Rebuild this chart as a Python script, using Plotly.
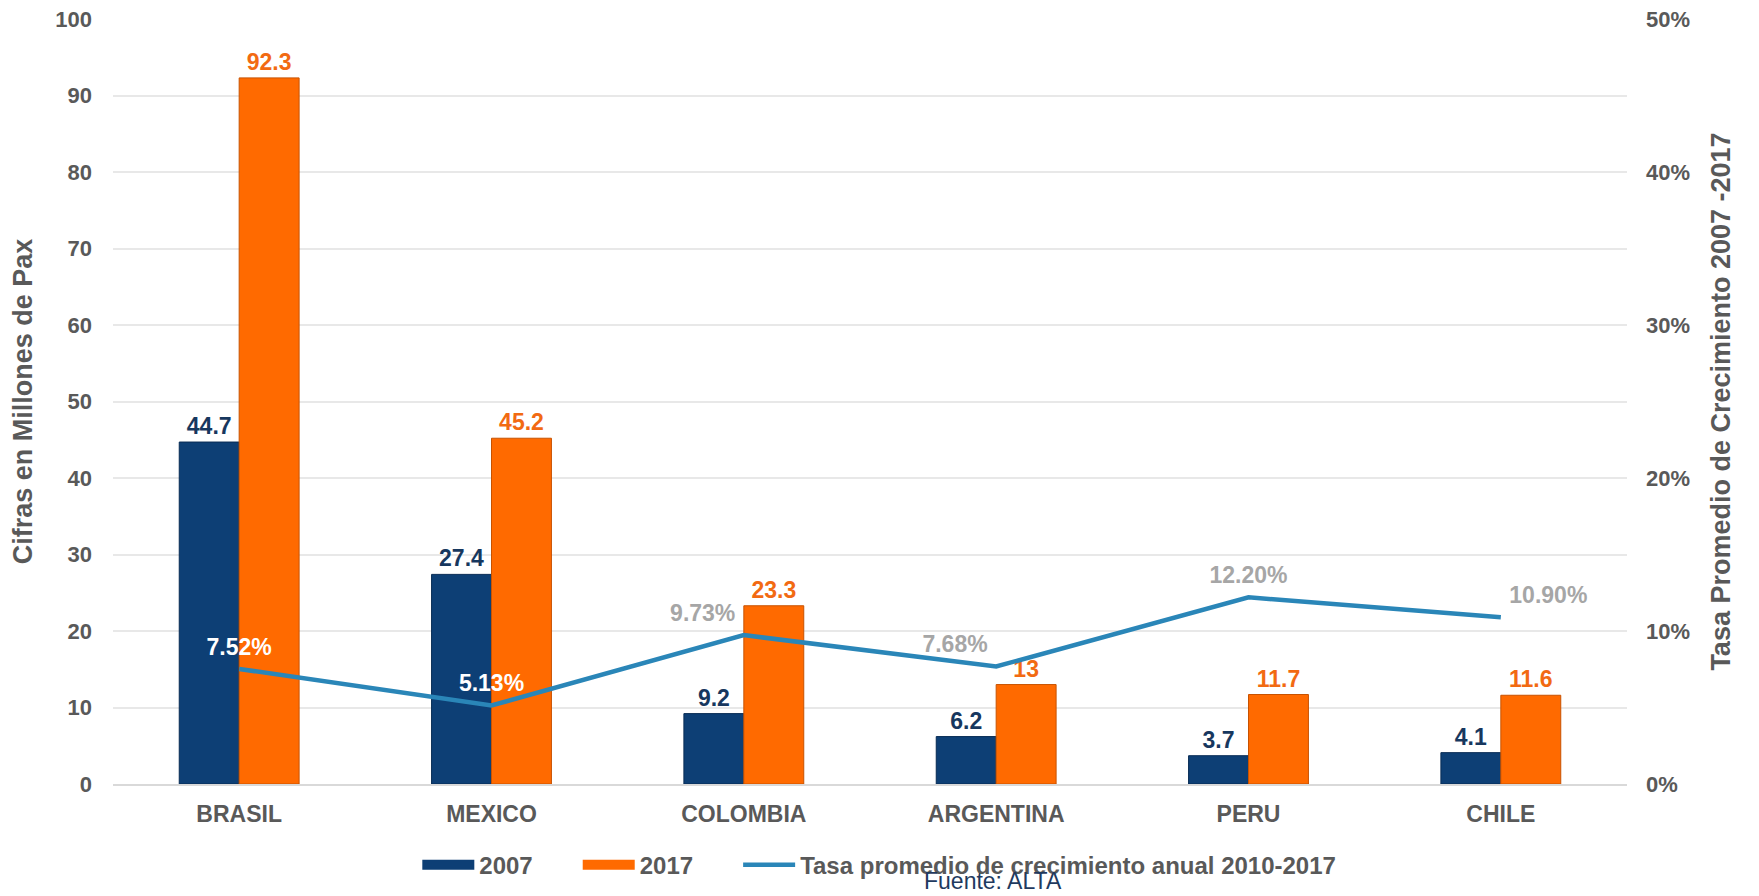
import plotly.graph_objects as go

categories = ["BRASIL", "MEXICO", "COLOMBIA", "ARGENTINA", "PERU", "CHILE"]
pax_2007 = [44.7, 27.4, 9.2, 6.2, 3.7, 4.1]
pax_2017 = [92.3, 45.2, 23.3, 13, 11.7, 11.6]
growth = [7.52, 5.13, 9.73, 7.68, 12.20, 10.90]
growth_labels = ["7.52%", "5.13%", "9.73%", "7.68%", "12.20%", "10.90%"]
growth_label_colors = ["white", "white", "#A6A6A6", "#A6A6A6", "#A6A6A6", "#A6A6A6"]
growth_label_pos = ["top center", "top center", "top left", "top left", "top center", "top right"]
left_ticks = [0, 10, 20, 30, 40, 50, 60, 70, 80, 90, 100]
right_ticks = [0, 10, 20, 30, 40, 50]
right_tick_labels = ["0%", "10%", "20%", "30%", "40%", "50%"]

FONT = "Liberation Sans, Arial, sans-serif"
GREY = "#595959"
C2007 = "#0D3F75"
C2017 = "#FF6A00"
CLINE = "#2A86B8"
PAD = "\u00a0" * 6

fig = go.Figure()
fig.add_trace(go.Bar(
    name="2007", x=categories, y=pax_2007, showlegend=False,
    marker=dict(color=C2007, line=dict(color="#082C55", width=1)),
    text=[str(v) for v in pax_2007], textposition="outside",
    textfont=dict(family=FONT, size=23, color="#17375E", weight="bold"),
    cliponaxis=False,
))
fig.add_trace(go.Bar(
    name="2017", x=categories, y=pax_2017, showlegend=False,
    marker=dict(color=C2017, line=dict(color="#C85200", width=1)),
    text=[str(v) for v in pax_2017], textposition="outside",
    textfont=dict(family=FONT, size=23, color="#F26A12", weight="bold"),
    cliponaxis=False,
))
fig.add_trace(go.Scatter(
    name="Tasa promedio de crecimiento anual 2010-2017",
    x=categories, y=growth, yaxis="y2", mode="lines+markers+text",
    line=dict(color=CLINE, width=4.5),
    marker=dict(size=12, color="rgba(0,0,0,0)"),
    text=growth_labels, textposition=growth_label_pos,
    textfont=dict(family=FONT, size=23, color=growth_label_colors, weight="bold"),
    cliponaxis=False, showlegend=False,
))
# legend entries (rectangular swatches like the original)
fig.add_trace(go.Scatter(name="2007" + PAD, x=[None], y=[None], mode="lines",
                         line=dict(color=C2007, width=13)))
fig.add_trace(go.Scatter(name="2017" + PAD, x=[None], y=[None], mode="lines",
                         line=dict(color=C2017, width=13)))
fig.add_trace(go.Scatter(name="Tasa promedio de crecimiento anual 2010-2017",
                         x=[None], y=[None], mode="lines",
                         line=dict(color=CLINE, width=4.5)))

fig.update_layout(
    width=1759, height=896,
    margin=dict(l=113, r=132, t=19, b=112, autoexpand=False),
    paper_bgcolor="white", plot_bgcolor="white",
    barmode="group", bargap=0.525, bargroupgap=0,
    font=dict(family=FONT, size=22, color=GREY),
    xaxis=dict(
        tickfont=dict(family=FONT, size=23, color=GREY, weight="bold"),
        showgrid=False, showline=True, linecolor="#D9D9D9", linewidth=2,
        ticks="", automargin=False, ticklabelstandoff=8,
    ),
    yaxis=dict(
        range=[0, 100], tickvals=left_ticks,
        tickfont=dict(family=FONT, size=22, color=GREY, weight="bold"),
        gridcolor="#E8E8E8", gridwidth=2, zeroline=False,
        title=dict(text="Cifras en Millones de Pax",
                   font=dict(family=FONT, size=27, color=GREY, weight="bold"),
                   standoff=14),
        ticklabelstandoff=20, automargin=False,
    ),
    yaxis2=dict(
        range=[0, 50], tickvals=right_ticks, ticktext=right_tick_labels,
        overlaying="y", side="right", showgrid=False, zeroline=False,
        tickfont=dict(family=FONT, size=22, color=GREY, weight="bold"),
        title=dict(text="Tasa Promedio de Crecimiento 2007 -2017",
                   font=dict(family=FONT, size=27, color=GREY, weight="bold"),
                   standoff=22),
        ticklabelstandoff=18, automargin=False,
    ),
    legend=dict(
        orientation="h", x=0.201, xanchor="left", y=-0.106, yanchor="middle",
        font=dict(family=FONT, size=24, color=GREY, weight="bold"),
        itemwidth=52, tracegroupgap=0,
        bgcolor="rgba(0,0,0,0)",
    ),
    showlegend=True,
)
fig.add_annotation(
    text="Fuente: ALTA", xref="paper", yref="paper", x=0.581, y=-0.127,
    xanchor="center", yanchor="middle", showarrow=False,
    font=dict(family=FONT, size=23, color="#1F3A5F"),
)
fig.write_html("out.html", config={"displayModeBar": False},
               post_script="document.body.style.margin='0';")
